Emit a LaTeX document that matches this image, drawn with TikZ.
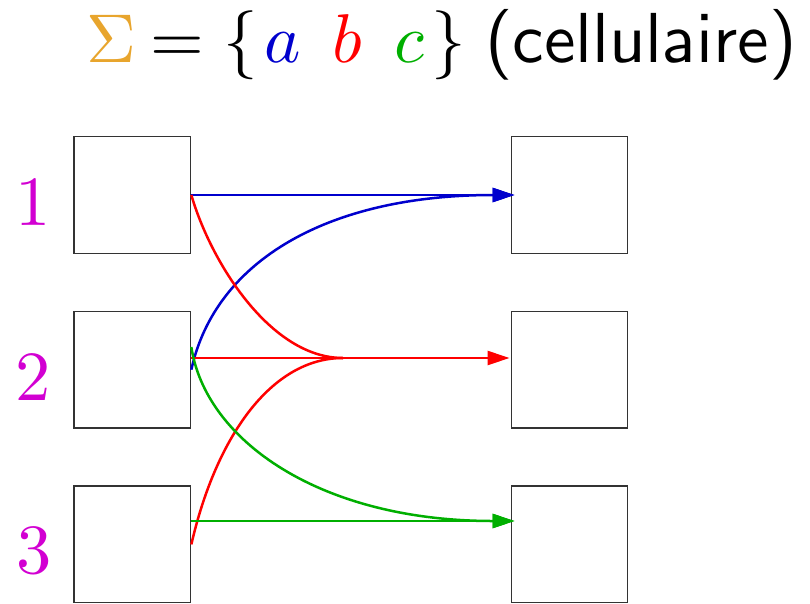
\documentclass[tikz,border=0pt]{standalone}
\usetikzlibrary{arrows.meta,calc}
\definecolor{sigorange}{RGB}{232,165,45}
\definecolor{labmag}{RGB}{210,0,210}
\definecolor{ablue}{RGB}{0,0,205}
\definecolor{bred}{RGB}{255,0,0}
\definecolor{cgreen}{RGB}{0,175,0}
\font\titlerm=cmr10 at 69pt
\font\titlemi=cmmi10 at 69pt
\font\titlesy=cmsy10 at 69pt
\font\titless=cmss10 at 70.8pt
\font\labrm=cmr10 at 70.5pt
\begin{document}
\begin{tikzpicture}[x=1pt,y=-1pt,
  cell/.style={draw=black!80,line width=1.4pt,minimum size=116.5pt,inner sep=0pt},
  lab/.style={text=labmag,font=\labrm,anchor=base,inner sep=0pt},
  conn/.style={line width=2.5pt,-{Triangle[length=22pt,width=14pt]}},
  plainline/.style={line width=2.5pt}]
\useasboundingbox (0,0) rectangle (810,603);
\node[anchor=base west,inner sep=0pt] (title) at (86,62)
  {{\titlerm\textcolor{sigorange}{\char6}}\hspace{14.27pt}%
   {\titlerm=}\hspace{19.33pt}%
   {\titlesy\char"66}\hspace{6.85pt}%
   {\titlemi\textcolor{ablue}{a}}\hspace{31.3pt}%
   {\titlemi\textcolor{bred}{b}}\hspace{32.25pt}%
   {\titlemi\textcolor{cgreen}{c}}\hspace{7.05pt}%
   {\titlesy\char"67}\hspace{19.6pt}%
   {\titless(cellulaire)}};
\node[cell] (L1) at (132.4,195) {};
\node[cell] (L2) at (132.4,369.7) {};
\node[cell] (L3) at (132.4,544.4) {};
\node[cell] (R1) at (569.5,195) {};
\node[cell] (R2) at (569.5,369.7) {};
\node[cell] (R3) at (569.5,544.4) {};
\node[lab] (n1) at (33.5,225) {1};
\node[lab] (n2) at (32.8,400.5) {2};
\node[lab] (n3) at (34,573) {3};
\coordinate (m) at (343,358);
\coordinate (R1a) at ([xshift=4pt]R1.west);
\coordinate (R2b) at ([yshift=11.7pt,xshift=-1pt]R2.west);
\coordinate (R3g) at ([yshift=23.4pt,xshift=4pt]R3.west);
% blue (a)
\draw[conn,ablue] (L1.east) -- (R1a);
\draw[conn,ablue] (L2.east) .. controls +(24,-110) and ($(R1a)+(-185,0)$) .. (R1a);
% red (b)
\draw[plainline,bred] (L1.east) .. controls +(19,66) and ($(m)+(-73,0)$) .. (m);
\draw[plainline,bred] (L3.east) .. controls +(24,-105) and ($(m)+(-73,0)$) .. (m);
\draw[conn,bred] ([yshift=11.7pt]L2.east) -- (R2b);
% green (c)
\draw[conn,cgreen] ([yshift=22.7pt]L2.east) .. controls +(14,93) and ($(R3g)+(-195,0)$) .. (R3g);
\draw[conn,cgreen] ([yshift=23.4pt]L3.east) -- (R3g);
\end{tikzpicture}
\end{document}
